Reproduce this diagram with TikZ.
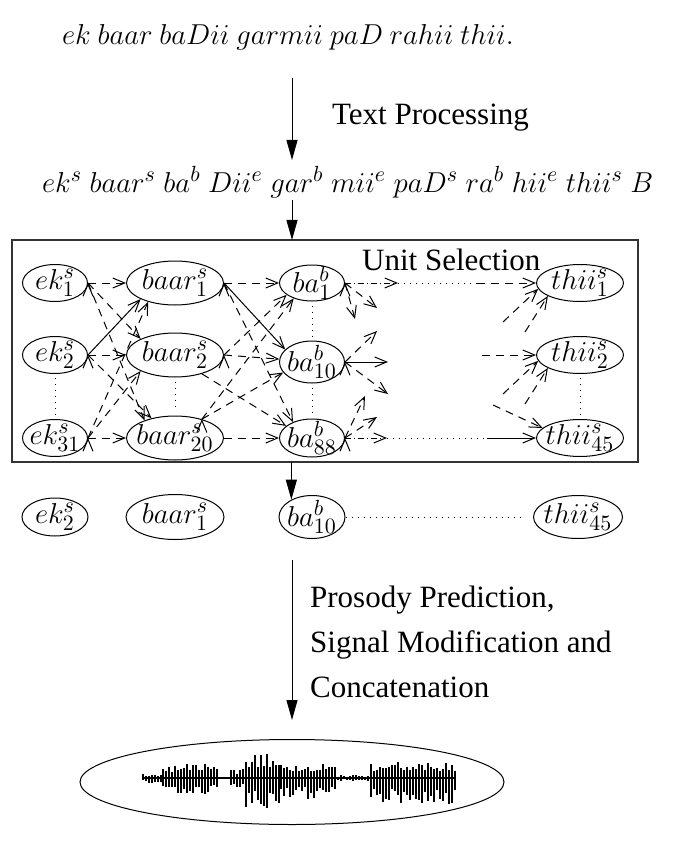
\documentclass[tikz,border=0pt]{standalone}
\usepackage[no-math]{fontspec}
\setmainfont{Liberation Serif}
\usetikzlibrary{shapes.geometric,arrows.meta}

\begin{document}
\begin{tikzpicture}[x=0.5pt,y=-0.5pt,line width=0.5pt,
  unitnode/.style={ellipse,draw,inner sep=-3pt,font=\fontsize{15.5}{18}\selectfont},
  cand/.style={dash pattern=on 4pt off 3pt,-{Straight Barb[length=6pt,width=5pt]}},
  best/.style={-{Straight Barb[length=6pt,width=5pt]}},
  stub/.style={dash pattern=on 3pt off 1.5pt on 0.5pt off 1.5pt,-{Straight Barb[length=6pt,width=5pt]}},
  dotline/.style={dash pattern=on 0.5pt off 2.5pt},
  flow/.style={-{Triangle[length=10pt,width=5.5pt]}},
  lbl/.style={anchor=base west,font=\fontsize{15.5}{18}\selectfont},
  mth/.style={anchor=base west,font=\fontsize{15}{17}\selectfont}]

\useasboundingbox (0,0) rectangle (677,850);

\node[mth,font=\fontsize{13.5}{16}\selectfont] (sent) at (55,45) {$ek\ baar\ baDii\ garmii\ paD\ rahii\ thii.$};
\coordinate (tp1) at (292,78);
\coordinate (tp2) at (292,160);
\draw[flow] (tp1) -- (tp2);
\node[lbl] (tproc) at (325,125) {Text Processing};
\node[mth] (syl) at (35,192) {$ek^s\ baar^s\ ba^b\ Dii^e\ gar^b\ mii^e\ paD^s\ ra^b\ hii^e\ thii^s\ B$};

\coordinate (boxtl) at (12,240);
\coordinate (boxbr) at (638,462);
\draw[black!80,line width=0.7pt] (boxtl) rectangle (boxbr);
\coordinate (us1) at (292,200);
\coordinate (us2) at (292,240);
\draw[flow] (us1) -- (us2);
\node[lbl] (usel) at (355,270) {Unit Selection};

\node[unitnode,minimum width=32.5pt,minimum height=18.5pt] (ek1) at (55,283) {$ek_1^s$};
\node[unitnode,minimum width=32.5pt,minimum height=18.5pt] (ek2) at (55,355) {$ek_2^s$};
\node[unitnode,minimum width=32.5pt,minimum height=18.5pt] (ek31) at (55,438) {$ek_{31}^s$};
\node[unitnode,minimum width=48.5pt,minimum height=22pt] (baar1) at (175,283) {$baar_1^s$};
\node[unitnode,minimum width=48.5pt,minimum height=22pt] (baar2) at (175,355) {$baar_2^s$};
\node[unitnode,minimum width=48.5pt,minimum height=22pt] (baar20) at (175,438) {$baar_{20}^s$};
\node[unitnode,minimum width=32.5pt,minimum height=18pt] (ba1) at (312,283) {$ba_1^b$};
\node[unitnode,minimum width=32.5pt,minimum height=21pt] (ba10) at (312,362) {$ba_{10}^b$};
\node[unitnode,minimum width=32.5pt,minimum height=19pt] (ba88) at (312,438) {$ba_{88}^b$};
\node[unitnode,minimum width=43.5pt,minimum height=18.5pt] (thii1) at (580,283) {$thii_1^s$};
\node[unitnode,minimum width=43.5pt,minimum height=18.5pt] (thii2) at (580,355) {$thii_2^s$};
\node[unitnode,minimum width=43.5pt,minimum height=18.5pt] (thii45) at (580,438) {$thii_{45}^s$};

\draw[cand] (ek1.east) edge (baar1.west) edge (baar2.155) edge (baar20.150);
\draw[best] (ek2.east) -- (baar1.205);
\draw[cand] (ek2.east) edge (baar2.west) edge (baar20.140);
\draw[cand] (ek31.east) edge (baar1.215) edge (baar2.205) edge (baar20.west);

\draw[cand] (baar1.east) edge (ba1.west) edge (ba88.140);
\draw[best] (baar1.east) -- (ba10.155);
\draw[cand] (baar2.east) edge (ba1.205) edge (ba10.175);
\draw[cand] (baar2.-35) -- (ba88.155);
\draw[cand] (baar20.35) edge (ba1.220) edge (ba10.200);
\draw[cand] (baar20.east) -- (ba88.west);

\coordinate (b1a) at (355,319);
\coordinate (b1b) at (377,308);
\coordinate (b1c) at (398,283);
\coordinate (b1d) at (477,283);
\draw[cand] (ba1.east) edge (b1a) edge (b1b);
\draw[stub] (ba1.east) -- (b1c);
\draw[dotline] (b1c) -- (b1d);
\draw[cand] (b1d) -- (thii1.west);

\coordinate (b10a) at (377,331);
\coordinate (b10b) at (388,362);
\coordinate (b10c) at (388,394);
\draw[cand] (ba10.east) edge (b10a) edge (b10c);
\draw[best] (ba10.east) -- (b10b);

\coordinate (b88a) at (365,396);
\coordinate (b88b) at (377,417);
\coordinate (b88c) at (387,438);
\coordinate (b88d) at (487,438);
\draw[cand] (ba88.east) edge (b88a) edge (b88b);
\draw[stub] (ba88.east) -- (b88c);
\draw[dotline] (b88c) -- (b88d);
\draw[best] (b88d) -- (thii45.west);

\coordinate (t1a) at (503,322);
\coordinate (t1b) at (525,332);
\coordinate (t2a) at (482,355);
\coordinate (t2b) at (503,394);
\coordinate (t2c) at (525,404);
\coordinate (t45a) at (493,405);
\draw[cand] (t1a) -- (thii1.188);
\draw[cand] (t1b) -- (thii1.202);
\draw[cand] (t2a) -- (thii2.west);
\draw[cand] (t2b) -- (thii2.188);
\draw[cand] (t2c) -- (thii2.202);
\draw[cand] (t45a) -- (thii45.165);

\draw[dotline,shorten <=2pt,shorten >=2pt] (ek2.south) -- (ek31.north);
\draw[dotline,shorten <=2pt,shorten >=2pt] (baar2.south) -- (baar20.north);
\draw[dotline,shorten <=2pt,shorten >=2pt] (ba1.south) -- (ba10.north);
\draw[dotline,shorten <=2pt,shorten >=2pt] (ba10.south) -- (ba88.north);
\draw[dotline,shorten <=2pt,shorten >=2pt] (thii2.south) -- (thii45.north);

\node[unitnode,minimum width=33pt,minimum height=19pt] (ek2b) at (55,517) {$ek_2^s$};
\node[unitnode,minimum width=49pt,minimum height=22.5pt] (baar1b) at (175,517) {$baar_1^s$};
\node[unitnode,minimum width=33pt,minimum height=21.5pt] (ba10b) at (312,517) {$ba_{10}^b$};
\node[unitnode,minimum width=44.5pt,minimum height=21.5pt] (thii45b) at (578,517) {$thii_{45}^s$};
\coordinate (dl) at (520,517);
\draw[dotline] (ba10b.east) -- (dl);
\coordinate (sb) at (ba10b.140 |- boxbr);
\draw[flow] (sb) -- (ba10b.140);

\coordinate (pp1) at (292,560);
\coordinate (pp2) at (292,720);
\draw[flow] (pp1) -- (pp2);
\node[lbl] (pros1) at (303,607) {Prosody Prediction,};
\node[lbl] (pros2) at (303,652) {Signal Modification and};
\node[lbl] (pros3) at (303,697) {Concatenation};

\node[ellipse,draw,minimum width=212pt,minimum height=42.5pt] (speech) at (292,782) {};
\draw[line width=1pt] (143,778) -- (455,778);
\pgfmathsetseed{7}
\foreach \a/\b/\u/\d in {143/162/4/5,163/219/14/17,220/230/1/1,231/245/10/9,246/280/27/30,281/337/15/21,338/370/3/3,371/455/17/26}{
  \pgfmathtruncatemacro{\n}{(\b-\a)/3}
  \foreach \i in {0,...,\n}{
    \pgfmathsetmacro{\xx}{\a+3*\i}
    \pgfmathsetmacro{\hu}{\u*(0.4+0.6*rnd)}
    \pgfmathsetmacro{\hd}{\d*(0.4+0.6*rnd)}
    \draw[line width=1.45pt] (\xx,778-\hu) -- (\xx,778+\hd);
  }
}
\end{tikzpicture}
\end{document}
